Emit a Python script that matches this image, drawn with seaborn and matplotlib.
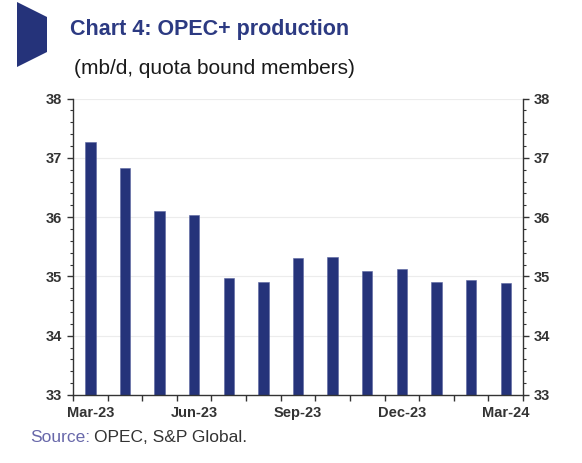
import matplotlib
matplotlib.use("Agg")
import matplotlib.pyplot as plt
import seaborn as sns
import pandas as pd
import numpy as np
from matplotlib.patches import Polygon
from matplotlib.ticker import MultipleLocator, FixedLocator

months = ["Mar-23", "Apr-23", "May-23", "Jun-23", "Jul-23", "Aug-23", "Sep-23",
          "Oct-23", "Nov-23", "Dec-23", "Jan-24", "Feb-24", "Mar-24"]
production = [37.26, 36.82, 36.10, 36.04, 34.98, 34.90, 35.31,
              35.33, 35.09, 35.12, 34.90, 34.94, 34.89]
tick_labels = ["Mar-23", "", "", "Jun-23", "", "", "Sep-23", "", "", "Dec-23", "", "", "Mar-24"]

NAVY = "#25337a"
sns.set_theme(style="white")
plt.rcParams['font.family'] = ['Liberation Sans', 'DejaVu Sans']

fig = plt.figure(figsize=(5.82, 4.63), dpi=100)
ax = fig.add_axes([73/582, 1-395/463, 450/582, (395-98.5)/463])

df = pd.DataFrame({"month": months, "value": production})
sns.barplot(data=df, x="month", y="value", color=NAVY, width=0.3, ax=ax,
            saturation=1, edgecolor="#5a64a0", linewidth=0.4)

ax.set_ylim(33, 38)
ax.set_xlim(-0.5, len(months) - 0.5)
ax.set_xlabel("")
ax.set_ylabel("")

for y in [34, 35, 36, 37, 38]:
    ax.axhline(y, color="#ececec", lw=0.8, zorder=0)

ax.spines["top"].set_visible(False)
for s in ["left", "right", "bottom"]:
    ax.spines[s].set_visible(True)
    ax.spines[s].set_color("#333333")
    ax.spines[s].set_linewidth(1.0)

ax.yaxis.set_major_locator(MultipleLocator(1))
ax.yaxis.set_minor_locator(MultipleLocator(0.2))
ax.tick_params(axis="y", which="both", left=True, right=True, labelleft=True,
               labelright=True, direction="out", color="#333333")
ax.tick_params(axis="y", which="major", length=4, width=1.0, labelsize=10.5,
               labelcolor="#333333", pad=4)
ax.tick_params(axis="y", which="minor", length=2.5, width=0.8)
for lab in ax.get_yticklabels():
    lab.set_fontweight("bold")

ax.set_xticks(range(len(months)))
ax.set_xticklabels(tick_labels, fontsize=10.5, fontweight="bold", color="#333333")
ax.tick_params(axis="x", which="major", length=0, pad=8)
ax.xaxis.set_minor_locator(FixedLocator(np.arange(-0.5, len(months), 1.0)))
ax.tick_params(axis="x", which="minor", bottom=True, length=4, width=1.0,
               direction="out", color="#333333")

# Decorative arrow marker
poly = Polygon([[17/582, 1-2/463], [47/582, 1-17/463], [47/582, 1-52/463],
                [17/582, 1-67/463]], closed=True, transform=fig.transFigure,
               facecolor=NAVY, edgecolor="none")
fig.patches.append(poly)

fig.text(70/582, 1-30/463, "Chart 4: OPEC+ production", fontsize=15.5,
         fontweight="bold", color="#2c3a82", va="center", ha="left")
fig.text(74/582, 1-69/463, "(mb/d, quota bound members)", fontsize=15,
         color="#1a1a1a", va="center", ha="left")

t1 = fig.text(30/582, 1-438/463, "Source:", fontsize=12.5, color="#6868aa",
              va="center", ha="left")
fig.canvas.draw()
bb = t1.get_window_extent()
x2 = bb.x1 / fig.bbox.width
fig.text(x2 + 4/582, 1-438/463, "OPEC, S&P Global.", fontsize=12.5,
         color="#333333", va="center", ha="left")

fig.savefig("out.png", dpi=100)
